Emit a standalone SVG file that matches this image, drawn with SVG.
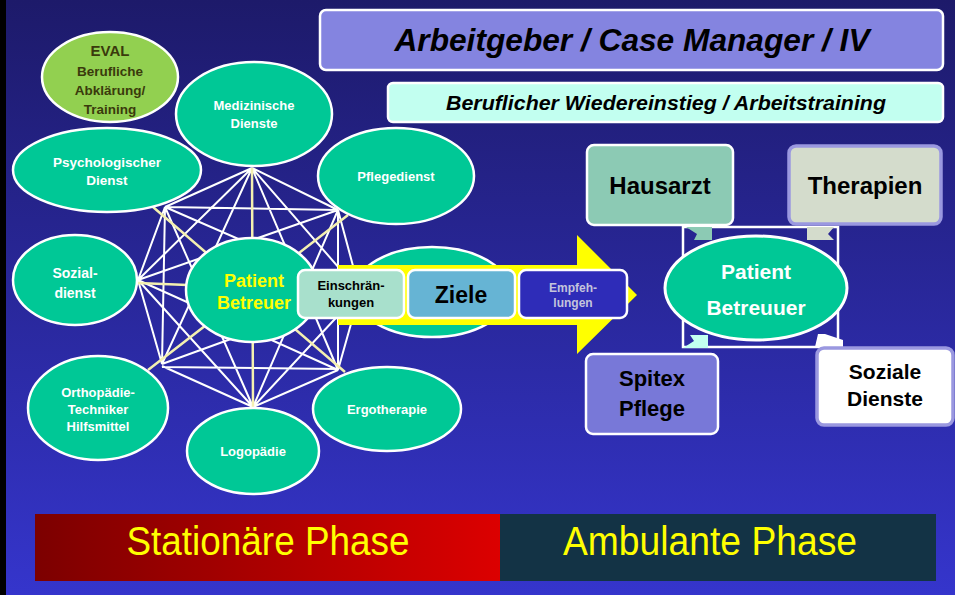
<svg xmlns="http://www.w3.org/2000/svg" width="955" height="595" viewBox="0 0 955 595">
<defs>
<linearGradient id="bg" x1="0" y1="0" x2="0" y2="1">
<stop offset="0" stop-color="#1d1a6a"/>
<stop offset="1" stop-color="#3535cc"/>
</linearGradient>
<linearGradient id="red" x1="0" y1="0" x2="1" y2="0">
<stop offset="0" stop-color="#7c0000"/>
<stop offset="1" stop-color="#dc0000"/>
</linearGradient>
<style>
.ell{fill:#00c896;stroke:#fff;stroke-width:2.5}
.nt{font-family:"Liberation Sans",Arial,sans-serif;font-weight:bold;fill:#fff;text-anchor:middle;font-size:13px}
.wl{stroke:#fff;stroke-width:2;fill:none}
.yl{stroke:#f4f0b0;stroke-width:2.5;fill:none}
.box{stroke:#fff;stroke-width:2.5}
.bt{font-family:"Liberation Sans",Arial,sans-serif;font-weight:bold;fill:#000;text-anchor:middle}
.ph{font-family:"Liberation Sans",Arial,sans-serif;fill:#ffff00;text-anchor:middle;font-size:40px}
</style>
</defs>
<rect x="0" y="0" width="955" height="595" fill="url(#bg)"/>
<rect x="0" y="0" width="6" height="595" fill="#000"/>

<g id="connectors">
<path class="wl" d="M252,168L165,207 M252,168L338,210 M252,168L138,280 M252,168L162,364 M252,168L338,370 M252,168L360,292
M165,207L338,210 M165,207L138,280 M165,207L162,364 M165,207L253,407 M165,207L360,292
M338,210L138,280 M338,210L253,407 M338,210L338,370 M338,210L360,292
M138,280L162,364 M138,280L253,407 M138,280L338,370
M162,366L253,407 M162,367L338,369 M162,364L360,292
M253,407L338,370 M253,407L360,292
M338,370L360,292"/>
<path class="yl" d="M252,168L253,407 M153,207L345,372 M348,215L148,370 M138,283L360,292"/>
</g>

<g id="node-right-hidden"><ellipse class="ell" cx="432" cy="292" rx="78" ry="45"/></g>
<g id="node-eval">
<ellipse cx="110" cy="77" rx="68" ry="45" fill="#92d050" stroke="#fff" stroke-width="2.5"/>
<text class="nt" x="110" y="56" style="fill:#3a3a0c;font-size:15px">EVAL</text>
<text class="nt" x="110" y="76" style="fill:#3a3a0c;font-size:13.5px">Berufliche</text>
<text class="nt" x="110" y="95" style="fill:#3a3a0c;font-size:13.5px">Abklärung/</text>
<text class="nt" x="110" y="114" style="fill:#3a3a0c;font-size:13.5px">Training</text>
</g>
<g id="node-med">
<ellipse class="ell" cx="254" cy="114" rx="78" ry="52"/>
<text class="nt" x="254" y="110">Medizinische</text>
<text class="nt" x="254" y="128">Dienste</text>
</g>
<g id="node-psych">
<ellipse class="ell" cx="107" cy="170" rx="94" ry="42"/>
<text class="nt" x="107" y="167" style="font-size:13.5px">Psychologischer</text>
<text class="nt" x="107" y="185" style="font-size:13.5px">Dienst</text>
</g>
<g id="node-pflege">
<ellipse class="ell" cx="396" cy="176" rx="78" ry="48"/>
<text class="nt" x="396" y="181">Pflegedienst</text>
</g>
<g id="node-sozial">
<ellipse class="ell" cx="75" cy="280" rx="62" ry="45"/>
<text class="nt" x="75" y="278" style="font-size:14px">Sozial-</text>
<text class="nt" x="75" y="298" style="font-size:14px">dienst</text>
</g>
<g id="node-ortho">
<ellipse class="ell" cx="98" cy="408" rx="70" ry="52"/>
<text class="nt" x="98" y="397">Orthopädie-</text>
<text class="nt" x="98" y="414">Techniker</text>
<text class="nt" x="98" y="431">Hilfsmittel</text>
</g>
<g id="node-logo">
<ellipse class="ell" cx="253" cy="451" rx="66" ry="43"/>
<text class="nt" x="253" y="456">Logopädie</text>
</g>
<g id="node-ergo">
<ellipse class="ell" cx="387" cy="409" rx="74" ry="42"/>
<text class="nt" x="387" y="414">Ergotherapie</text>
</g>
<g id="node-center">
<ellipse class="ell" cx="252" cy="290" rx="66" ry="52"/>
<text class="nt" x="254" y="287" style="fill:#ffff00;font-size:18px">Patient</text>
<text class="nt" x="254" y="309" style="fill:#ffff00;font-size:18px">Betreuer</text>
</g>

<g id="arrow">
<polygon points="338,265 577,265 577,235 637,295 577,354 577,325 338,325" fill="#ffff00"/>
</g>
<g id="box-einschr">
<rect class="box" x="298" y="270" width="106" height="48" rx="7" fill="#a8e0cc"/>
<text class="bt" x="351" y="290" font-size="13">Einschrän-</text>
<text class="bt" x="351" y="307" font-size="13">kungen</text>
</g>
<g id="box-ziele">
<rect class="box" x="408" y="270" width="107" height="48" rx="7" fill="#66b4d4"/>
<text class="bt" x="461" y="303" font-size="23">Ziele</text>
</g>
<g id="box-empf">
<rect class="box" x="519" y="270" width="108" height="48" rx="7" fill="#2e2cb8"/>
<text class="bt" x="573" y="292" font-size="12" style="fill:#c4c4dc">Empfeh-</text>
<text class="bt" x="573" y="307" font-size="12" style="fill:#c4c4dc">lungen</text>
</g>

<g id="box-arbeitgeber">
<rect class="box" x="320" y="10" width="623" height="60" rx="6" fill="#8484e0"/>
<text class="bt" x="632" y="51" font-size="31" font-style="italic" textLength="475" lengthAdjust="spacingAndGlyphs">Arbeitgeber / Case Manager / IV</text>
</g>
<g id="box-beruf">
<rect class="box" x="388" y="83" width="555" height="39" rx="5" fill="#c2fff0"/>
<text class="bt" x="666" y="110" font-size="20" font-style="italic" textLength="440" lengthAdjust="spacingAndGlyphs">Beruflicher Wiedereinstieg / Arbeitstraining</text>
</g>

<g id="frame"><rect x="683" y="227" width="155" height="120" fill="none" stroke="#fff" stroke-width="2.5"/></g>
<g id="node-patient-right">
<ellipse class="ell" cx="756" cy="288" rx="91" ry="52" style="stroke-width:3"/>
<text class="nt" x="756" y="279" style="font-size:21px">Patient</text>
<text class="nt" x="756" y="315" style="font-size:21px">Betreuuer</text>
</g>
<g id="box-hausarzt">
<polygon points="686,227 712,227 712,240 694,240 697,234" fill="#8ccab4"/>
<rect class="box" x="587" y="145" width="146" height="80" rx="7" fill="#8ccab4"/>
<text class="bt" x="660" y="194" font-size="24">Hausarzt</text>
</g>
<g id="box-therapien">
<polygon points="807,227 834,227 828,234 834,240 807,240" fill="#d4dccc"/>
<rect x="789" y="146" width="152" height="78" rx="7" fill="#d4dccc" stroke="#9a98e0" stroke-width="3.5"/>
<text class="bt" x="865" y="194" font-size="24">Therapien</text>
</g>
<g id="box-spitex">
<polygon points="683,348 708,348 708,335 690,335 694,341" fill="#c2fff0"/>
<rect class="box" x="586" y="354" width="132" height="80" rx="7" fill="#7878d8"/>
<text class="bt" x="652" y="386" font-size="22">Spitex</text>
<text class="bt" x="652" y="416" font-size="22">Pflege</text>
</g>
<g id="box-soziale">
<polygon points="815,347 843,347 843,340 825,334 818,334" fill="#fff"/>
<rect x="817" y="348" width="136" height="77" rx="7" fill="#fff" stroke="#9a98e0" stroke-width="3.5"/>
<text class="bt" x="885" y="379" font-size="21">Soziale</text>
<text class="bt" x="885" y="406" font-size="21">Dienste</text>
</g>

<g id="phase-stationaer">
<rect x="35" y="514" width="465" height="67" fill="url(#red)"/>
<text class="ph" x="268" y="555" textLength="283" lengthAdjust="spacingAndGlyphs">Stationäre Phase</text>
</g>
<g id="phase-ambulant">
<rect x="500" y="514" width="436" height="67" fill="#133345"/>
<text class="ph" x="710" y="555" textLength="294" lengthAdjust="spacingAndGlyphs">Ambulante Phase</text>
</g>
</svg>
